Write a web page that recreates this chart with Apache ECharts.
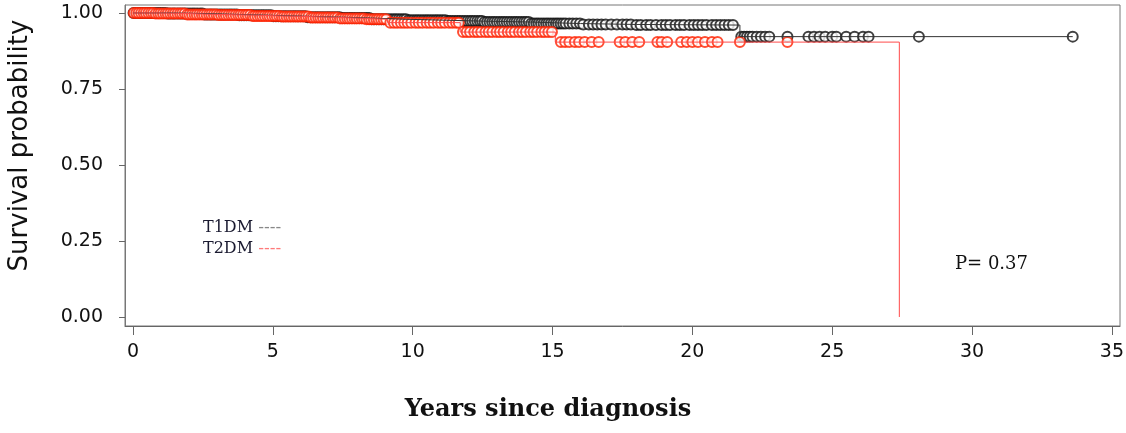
<!DOCTYPE html>
<html>
<head>
<meta charset="utf-8">
<script src="https://cdn.jsdelivr.net/npm/echarts@6/dist/echarts.min.js"></script>
<style>
  html, body { margin: 0; padding: 0; background: #fff; }
  #chart { width: 1126px; height: 433px; }
</style>
</head>
<body>
<div id="chart"></div>
<script>
// Kaplan-Meier steps: time (years) and survival from that time on
const t1Time = [0, 1.2, 2.5, 3.8, 5.0, 6.2, 7.4, 8.5, 9.8, 11.2, 12.5, 14.2, 16.0, 18.0, 21.7, 33.6];
const t1Surv = [1.0, 0.998, 0.995, 0.992, 0.989, 0.986, 0.983, 0.979, 0.976, 0.973, 0.970, 0.965, 0.962, 0.960, 0.922, 0.922];

const t2Time = [0, 0.8, 1.9, 3.0, 4.2, 5.3, 6.3, 7.4, 8.3, 9.1, 11.7, 15.1, 27.4];
const t2Surv = [1.0, 0.998, 0.995, 0.993, 0.990, 0.988, 0.985, 0.982, 0.979, 0.968, 0.937, 0.904, 0.0];

// censoring times (circles)
const t1Censor = [
  0.02, 0.1, 0.2, 0.28, 0.37, 0.46, 0.55, 0.63, 0.72, 0.81, 0.9, 0.98, 1.07, 1.16, 1.25, 1.33, 1.42, 1.5, 1.6, 1.69,
  1.78, 1.86, 1.95, 2.04, 2.13, 2.21, 2.3, 2.4, 2.48, 2.57, 2.66, 2.75, 2.83, 2.92, 3.01, 3.1, 3.18, 3.27, 3.36, 3.45,
  3.53, 3.62, 3.71, 3.8, 3.88, 3.97, 4.06, 4.15, 4.24, 4.32, 4.41, 4.5, 4.59, 4.67, 4.76, 4.85, 4.94, 5.02, 5.11, 5.2,
  5.29, 5.38, 5.46, 5.55, 5.64, 5.73, 5.81, 5.9, 5.99, 6.08, 6.17, 6.25, 6.34, 6.43, 6.52, 6.6, 6.69, 6.78, 6.87, 6.96,
  7.04, 7.13, 7.22, 7.31, 7.39, 7.48, 7.57, 7.66, 7.75, 7.83, 7.92, 8.01, 8.1, 8.19, 8.27, 8.36, 8.45, 8.54, 8.62, 8.71,
  8.8, 8.89, 8.97, 9.06, 9.15, 9.24, 9.33, 9.41, 9.5, 9.59, 9.68, 9.76, 9.85, 9.94, 10.03, 10.12, 10.2, 10.29, 10.38, 10.47,
  10.55, 10.64, 10.73, 10.82, 10.9, 10.99, 11.08, 11.17, 11.26, 11.34, 11.43, 11.52, 11.61, 11.69, 11.78, 11.87, 11.96, 12.05, 12.13, 12.22,
  12.31, 12.4, 12.48, 12.57, 12.66, 12.75, 12.84, 12.92, 13.01, 13.1, 13.19, 13.27, 13.36, 13.45, 13.54, 13.63, 13.71, 13.8, 13.89, 13.98,
  14.06, 14.15, 14.24, 14.33, 14.42, 14.5, 14.59, 14.68, 14.77, 14.85, 14.94, 15.03, 15.12, 15.2, 15.29, 15.38, 15.47, 15.6, 15.72, 15.85,
  15.98, 16.1, 16.3, 16.45, 16.6, 16.75, 16.9, 17.1, 17.3, 17.5, 17.65, 17.8, 18.0, 18.15, 18.35, 18.5, 18.7, 18.9, 19.05, 19.2,
  19.4, 19.55, 19.7, 19.9, 20.05, 20.2, 20.35, 20.5, 20.7, 20.85, 21.0, 21.15, 21.3, 21.45,
  21.75, 21.85, 21.95, 22.05, 22.15, 22.3, 22.45, 22.6, 22.75, 23.4, 24.15, 24.35, 24.55, 24.75, 25.0, 25.15, 25.5, 25.8,
  26.1, 26.3, 28.1, 33.6
];
const t2Censor = [
  0.03, 0.12, 0.2, 0.29, 0.38, 0.46, 0.55, 0.64, 0.72, 0.81, 0.9, 0.98, 1.07, 1.16, 1.24, 1.33, 1.42, 1.5, 1.59, 1.68,
  1.76, 1.85, 1.94, 2.02, 2.11, 2.2, 2.28, 2.37, 2.46, 2.54, 2.63, 2.72, 2.8, 2.89, 2.98, 3.06, 3.15, 3.24, 3.32, 3.41,
  3.5, 3.58, 3.67, 3.76, 3.84, 3.93, 4.02, 4.1, 4.19, 4.28, 4.36, 4.45, 4.54, 4.62, 4.71, 4.8, 4.88, 4.97, 5.06, 5.14,
  5.23, 5.32, 5.4, 5.49, 5.58, 5.66, 5.75, 5.84, 5.92, 6.01, 6.1, 6.18, 6.27, 6.36, 6.44, 6.53, 6.62, 6.7, 6.79, 6.88,
  6.96, 7.05, 7.14, 7.22, 7.31, 7.4, 7.48, 7.57, 7.66, 7.74, 7.83, 7.92, 8.0, 8.09, 8.18, 8.26, 8.35, 8.44, 8.52, 8.61,
  8.7, 8.78, 8.87, 8.96, 9.05,
  9.2, 9.33, 9.45, 9.58, 9.7, 9.82, 9.95, 10.1, 10.22, 10.35, 10.5, 10.62, 10.75, 10.9, 11.02, 11.15, 11.3, 11.42, 11.55, 11.65,
  11.8, 11.93, 12.05, 12.2, 12.32, 12.45, 12.6, 12.72, 12.85, 13.0, 13.12, 13.25, 13.4, 13.52, 13.65, 13.8, 13.92, 14.05, 14.2, 14.32,
  14.45, 14.6, 14.72, 14.85, 14.98,
  15.3, 15.45, 15.6, 15.8, 15.95, 16.15, 16.4, 16.65, 17.4, 17.6, 17.85, 18.1, 18.75, 18.9, 19.1, 19.6, 19.8, 20.0, 20.2, 20.45,
  20.7, 20.9, 21.7, 23.4
];

const xTicks = [0, 5, 10, 15, 20, 25, 30, 35];
const yTicks = [0, 0.25, 0.5, 0.75, 1];
const pText = 'P= 0.37';

function survAt(times, surv, t) {
  let s = surv[0];
  for (let i = 0; i < times.length; i++) {
    if (times[i] <= t) s = surv[i];
  }
  return s;
}

const zip = (a, b) => a.map((v, i) => [v, b[i]]);
const censorPoints = (c, times, surv) => c.map(t => [t, survAt(times, surv, t)]);

const RED = '#ff2200';
const BLACK = '#111';

const chart = echarts.init(document.getElementById('chart'));
chart.setOption({
  animation: false,
  grid: {
    left: 125, right: 6, top: 5, bottom: 107,
    show: true, borderColor: '#777', borderWidth: 1,
    outerBoundsMode: 'none'
  },
  title: {
    text: pText,
    left: 950, top: 250,
    textStyle: { fontFamily: 'DejaVu Serif', fontSize: 18, fontWeight: 'normal', color: '#111' }
  },
  legend: {
    orient: 'vertical',
    left: 193, top: 215,
    itemWidth: 0, itemHeight: 0, itemGap: 5,
    icon: 'rect',
    data: ['T1DM', 'T2DM'],
    formatter: name => '{n|' + name + '}{' + (name === 'T1DM' ? 'g' : 'r') + '| ----}',
    textStyle: {
      rich: {
        n: { fontFamily: 'DejaVu Serif', fontSize: 16, color: '#1a1a30', lineHeight: 18 },
        g: { fontFamily: 'DejaVu Sans', fontSize: 16, color: '#888', lineHeight: 18 },
        r: { fontFamily: 'DejaVu Sans', fontSize: 16, color: '#ff7a7a', lineHeight: 18 }
      }
    }
  },
  xAxis: {
    type: 'value',
    min: -0.286, max: 35.29,
    name: 'Years since diagnosis',
    nameLocation: 'middle',
    nameGap: 72,
    nameTextStyle: {
      fontFamily: 'DejaVu Serif', fontWeight: 'bold', fontSize: 24, color: '#111',
      padding: [0, 149, 0, 0]
    },
    splitLine: { show: false },
    axisLine: { show: true, onZero: false, lineStyle: { color: '#666', width: 1 } },
    axisTick: { show: true, length: 9, customValues: xTicks, lineStyle: { color: '#666' } },
    axisLabel: {
      customValues: xTicks, margin: 17,
      fontFamily: 'DejaVu Sans', fontSize: 19, color: '#111'
    }
  },
  yAxis: {
    type: 'value',
    min: -0.0296, max: 1.026,
    name: 'Survival probability',
    nameLocation: 'middle',
    nameGap: 92,
    nameRotate: 90,
    nameTextStyle: {
      fontFamily: 'DejaVu Sans', fontSize: 26, color: '#111',
      padding: [0, 0, 0, 40]
    },
    splitLine: { show: false },
    axisLine: { show: true, onZero: false, lineStyle: { color: '#777', width: 1 } },
    axisTick: { show: true, length: 6, customValues: yTicks, lineStyle: { color: '#666' } },
    axisLabel: {
      customValues: yTicks, margin: 22,
      fontFamily: 'DejaVu Sans', fontSize: 19, color: '#111',
      formatter: v => v.toFixed(2)
    }
  },
  series: [
    {
      name: 'T1DM', type: 'line', step: 'end', showSymbol: false,
      data: zip(t1Time, t1Surv),
      lineStyle: { color: '#333', width: 1 }, itemStyle: { color: '#333' }
    },
    {
      name: 'T1DM', type: 'scatter', symbol: 'emptyCircle', symbolSize: 10,
      data: censorPoints(t1Censor, t1Time, t1Surv),
      itemStyle: { color: BLACK, borderColor: BLACK, borderWidth: 1.6 }
    },
    {
      name: 'T2DM', type: 'line', step: 'end', showSymbol: false,
      data: zip(t2Time, t2Surv),
      lineStyle: { color: '#ff4a4a', width: 1 }, itemStyle: { color: RED }
    },
    {
      name: 'T2DM', type: 'scatter', symbol: 'emptyCircle', symbolSize: 10,
      data: censorPoints(t2Censor, t2Time, t2Surv),
      itemStyle: { color: RED, borderColor: RED, borderWidth: 1.6 }
    }
  ]
});
</script>
</body>
</html>
